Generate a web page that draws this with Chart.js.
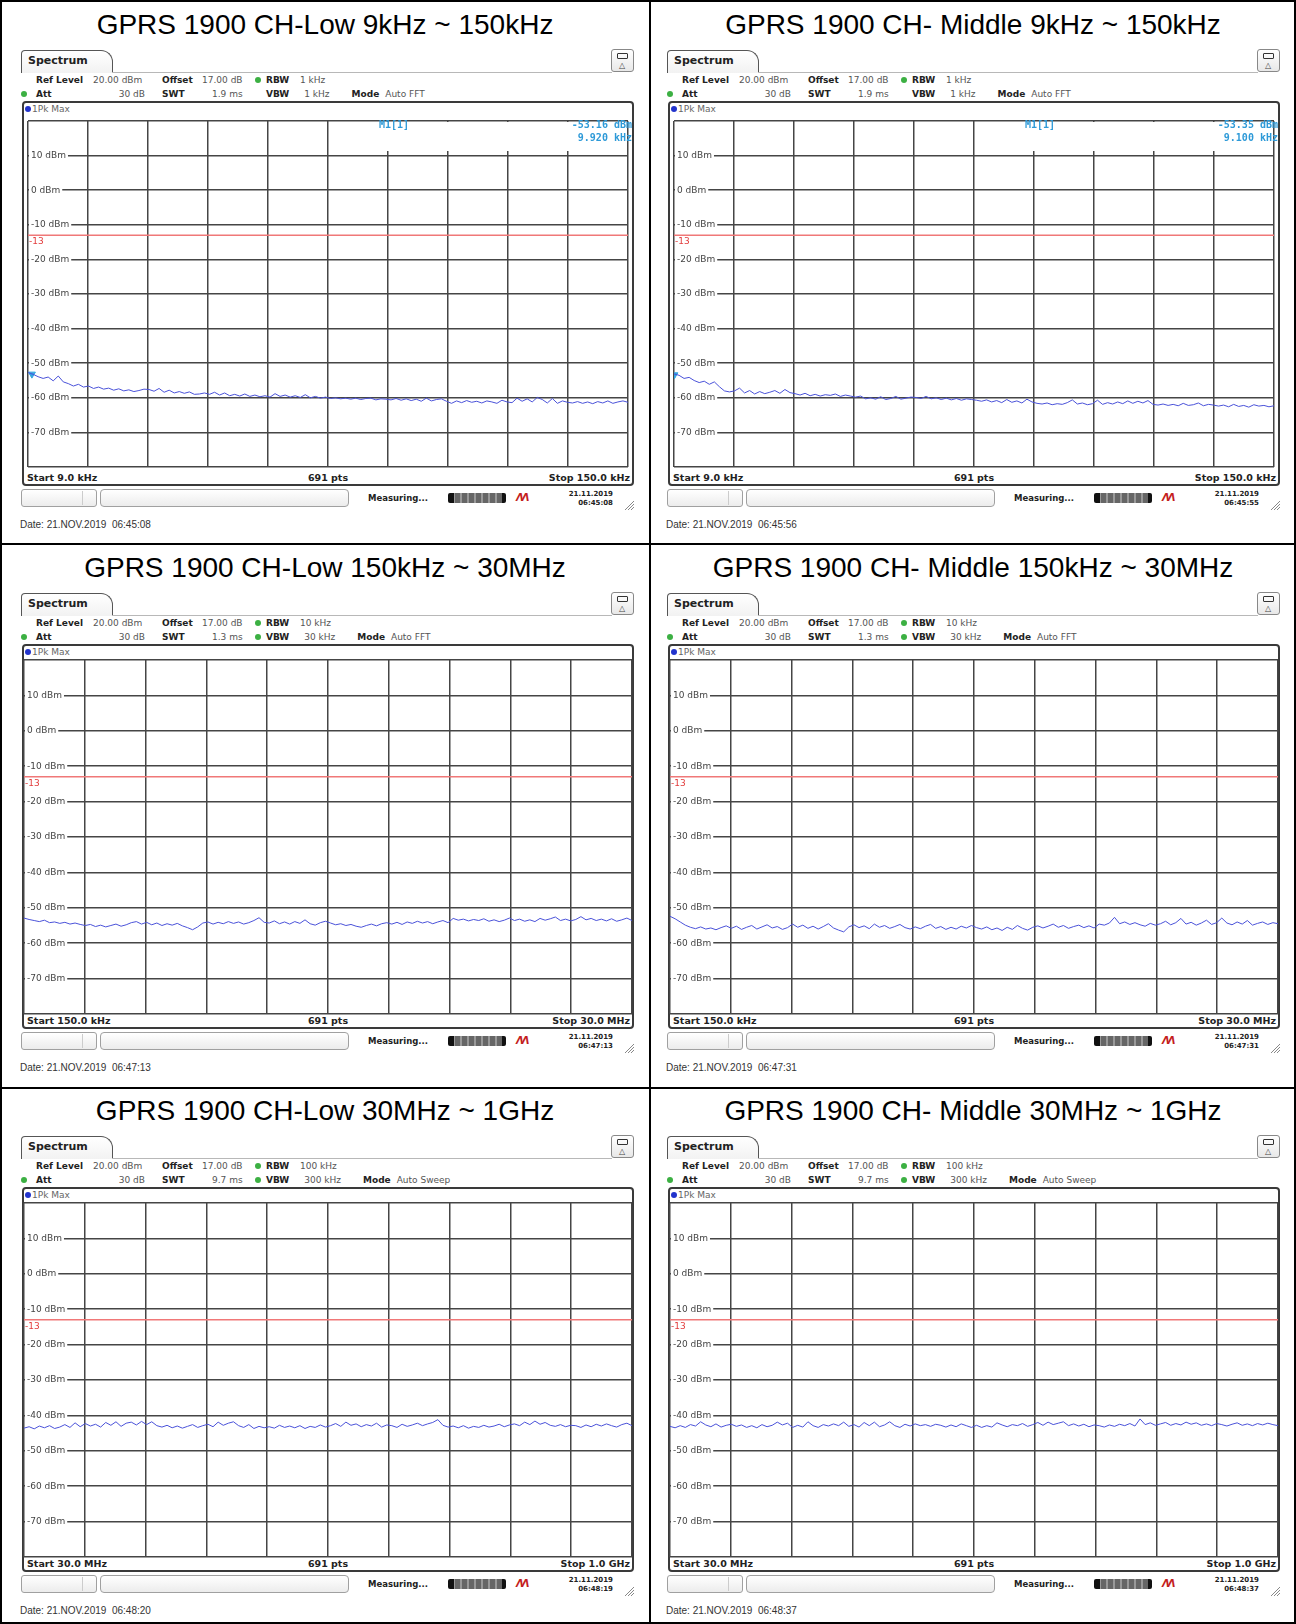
<!DOCTYPE html>
<html>
<head>
<meta charset="utf-8">
<script src="https://cdn.jsdelivr.net/npm/chart.js@4.4.1/dist/chart.umd.min.js"></script>
<style>
  body { margin: 0; background: #fff; }
  #page { position: relative; width: 1296px; height: 1624px; overflow: hidden; font-family: "DejaVu Sans", sans-serif; }
  .abs { position: absolute; }
  .title { position: absolute; font-family: "Liberation Sans", Arial, sans-serif; font-size: 28px; line-height: 32px; text-align: center; color: #000; }
  .tab { position: absolute; left: 21px; top: 50px; width: 92px; height: 23px; box-sizing: border-box; border: 1.5px solid #555; border-bottom: none; border-radius: 4px 12px 0 0; background: linear-gradient(#fff, #f2f2f2); }
  .frame { position: absolute; left: 22px; top: 101px; width: 612px; height: 385px; box-sizing: border-box; border: 2px solid #3a3a3a; border-radius: 4px; background: #fff; }
  .lbl { font-weight: bold; color: #222; font-size: 9px; }
  .val { font-weight: normal; color: #555; font-size: 9px; }
  .mk { font-family: "DejaVu Sans Mono", monospace; font-weight: bold; font-size: 10px; color: #2e9ad8; z-index: 2; }
</style>
</head>
<body>
<div id="page"></div>
<script>
// ---- chart data ----
const panelTitles = [
  "GPRS 1900 CH-Low 9kHz ~ 150kHz",
  "GPRS 1900 CH- Middle 9kHz ~ 150kHz",
  "GPRS 1900 CH-Low 150kHz ~ 30MHz",
  "GPRS 1900 CH- Middle 150kHz ~ 30MHz",
  "GPRS 1900 CH-Low 30MHz ~ 1GHz",
  "GPRS 1900 CH- Middle 30MHz ~ 1GHz"
];
// span in MHz
const spanStart = [0.009, 0.009, 0.15, 0.15, 30, 30];
const spanStop = [0.15, 0.15, 30, 30, 1000, 1000];
const startLabels = ["Start 9.0 kHz", "Start 9.0 kHz", "Start 150.0 kHz", "Start 150.0 kHz", "Start 30.0 MHz", "Start 30.0 MHz"];
const stopLabels = ["Stop 150.0 kHz", "Stop 150.0 kHz", "Stop 30.0 MHz", "Stop 30.0 MHz", "Stop 1.0 GHz", "Stop 1.0 GHz"];
const rbwLabels = ["1 kHz", "1 kHz", "10 kHz", "10 kHz", "100 kHz", "100 kHz"];
const vbwLabels = ["1 kHz", "1 kHz", "30 kHz", "30 kHz", "300 kHz", "300 kHz"];
const vbwCoupled = [false, false, true, true, true, true];
const swtLabels = ["1.9 ms", "1.9 ms", "1.3 ms", "1.3 ms", "9.7 ms", "9.7 ms"];
const modeLabels = ["Auto FFT", "Auto FFT", "Auto FFT", "Auto FFT", "Auto Sweep", "Auto Sweep"];
const captureTimes = ["06:45:08", "06:45:56", "06:47:13", "06:47:31", "06:48:20", "06:48:37"];
const screenTimes = ["06:45:08", "06:45:55", "06:47:13", "06:47:31", "06:48:19", "06:48:37"];
const markerFreq = [0.00992, 0.0091, null, null, null, null];
const markerLevel = [-53.16, -53.35, null, null, null, null];
const markerFreqLabels = ["9.920 kHz", "9.100 kHz", "", "", "", ""];

const levelTicks = [10, 0, -10, -20, -30, -40, -50, -60, -70];
const gridLevels = [20, 10, 0, -10, -20, -30, -40, -50, -60, -70, -80];
const limitLevel = -13;

// trace levels (dBm)
const lowTrace9k = [
  -52.7, -53.2, -53.9, -54.4, -54.0, -55.1, -53.7, -55.4, -55.9, -56.6, -56.1, -56.9,
  -56.6, -57.3, -56.9, -57.5, -57.2, -57.8, -57.4, -58.0, -57.7, -58.2, -57.9, -57.5,
  -57.6, -58.1, -57.3, -58.4, -57.8, -58.6, -58.2, -58.7, -58.3, -59.0, -58.9, -58.6,
  -59.0, -58.4, -59.2, -58.6, -59.4, -59.0, -59.5, -58.9, -59.6, -59.2, -59.7, -59.4,
  -59.8, -58.8, -59.6, -59.2, -59.8, -59.4, -59.9, -59.1, -60.0, -59.6, -60.1, -59.8,
  -60.2, -60.0, -60.3, -60.1, -60.4, -60.1, -60.5, -60.2, -60.1, -60.6, -60.3, -60.4,
  -60.6, -60.2, -60.7, -60.3, -60.8, -60.4, -61.0, -60.1, -60.9, -60.5, -60.3, -61.0,
  -61.6, -60.9, -61.4, -60.8, -61.3, -61.0, -61.5, -60.9, -61.2, -61.6, -60.7, -61.2,
  -61.4, -60.1, -61.0, -60.3, -61.2, -59.9, -60.5, -61.5, -60.2, -61.6, -60.9, -61.3,
  -61.5, -61.1, -61.6, -61.2, -61.7, -61.1, -61.5, -60.9, -61.6, -61.2, -60.9, -61.3
];
const midTrace9k = [
  -53.1, -53.5, -54.4, -54.1, -55.0, -55.6, -55.2, -56.1, -55.4, -56.8, -58.0, -58.3,
  -58.0, -57.2, -58.6, -57.9, -58.9, -58.2, -58.8, -58.4, -57.9, -58.7, -57.6, -58.5,
  -58.8, -59.2, -58.7, -59.4, -59.0, -59.5, -59.1, -59.3, -58.9, -59.6, -59.2, -59.5,
  -59.8, -59.5, -60.3, -60.0, -60.4, -59.7, -60.5, -60.2, -59.6, -60.4, -60.1, -59.8,
  -59.9, -60.2, -59.6, -60.3, -60.0, -60.5, -60.1, -60.6, -60.2, -60.7, -60.3, -60.5,
  -60.7, -61.0, -60.6, -61.2, -60.8, -61.4, -60.5, -61.3, -60.9, -61.5, -60.4, -61.2,
  -61.6, -61.8, -61.5, -62.0, -61.7, -61.9, -61.4, -60.6, -61.8, -61.5, -62.0, -61.7,
  -60.7, -61.9, -61.4, -61.8, -61.2, -61.7, -60.9, -61.6, -61.0, -61.5, -60.8, -61.9,
  -62.1, -61.8, -62.2, -61.9, -62.3, -61.6, -62.2, -62.0, -61.5, -62.3, -61.9, -62.1,
  -62.4, -62.1, -62.6, -61.9, -62.5, -62.2, -62.7, -62.0, -62.4, -62.2, -62.6, -62.3
];
const lowTrace30M = [
  -52.9, -53.3, -53.6, -53.9, -53.5, -54.2, -54.0, -54.4, -54.1, -54.6, -54.3, -54.7,
  -55.0, -54.7, -55.3, -54.9, -55.4, -55.0, -54.6, -55.2, -54.8, -54.2, -53.9, -54.6,
  -54.1, -54.8, -54.3, -55.0, -54.5, -54.9, -54.4, -55.1, -55.6, -56.2, -55.4, -54.3,
  -54.0, -54.6, -54.1, -54.5, -53.9, -54.4, -54.0, -54.6, -54.2, -53.6, -52.8, -54.1,
  -54.3, -53.7, -54.5, -54.0, -54.6, -53.9, -54.4, -53.4, -54.5, -54.9, -54.2, -53.8,
  -54.3, -54.8, -54.5, -55.0, -54.7, -55.2, -55.5, -55.0, -54.6, -55.1, -54.5, -54.2,
  -54.6, -54.1, -54.7, -54.0, -54.4, -53.8, -54.3, -53.9, -54.5, -54.0, -53.6, -54.2,
  -53.0, -53.5, -53.2, -53.7, -53.3, -53.6, -53.1, -53.8, -53.4, -53.9, -53.5, -52.9,
  -53.6, -53.2, -53.8, -53.4, -53.9, -53.0, -53.5, -53.1, -52.6, -53.6, -53.2, -53.7,
  -53.3, -52.5, -53.4, -53.0, -53.6, -53.2, -53.7, -53.1, -53.8, -53.4, -52.9, -53.6
];
const midTrace30M = [
  -52.4, -53.1, -54.0, -54.9, -55.5, -55.9, -55.4, -56.0, -55.7, -56.2, -55.6, -55.1,
  -55.8, -55.2, -56.1, -55.5, -55.0, -56.0, -55.4, -54.8, -55.7, -55.3, -56.1, -55.6,
  -54.6, -55.5, -54.9, -55.8, -55.2, -56.0, -55.3, -54.5, -55.7, -56.3, -56.8, -55.4,
  -54.8, -55.6, -55.1, -55.9, -54.6, -55.5, -55.0, -55.8, -55.3, -54.7, -55.6, -56.0,
  -55.4, -55.9, -55.2, -54.7, -55.8, -55.3, -56.1, -55.5, -56.0, -55.2, -55.7, -55.0,
  -55.6, -56.0, -55.4, -56.2, -55.7, -56.4, -55.5, -56.1, -55.0, -55.8, -56.3, -55.5,
  -55.1, -55.7, -55.2, -54.6, -55.5, -55.0, -55.8, -55.3, -54.9, -55.6, -55.1, -55.7,
  -54.6, -54.9, -54.3, -52.7, -54.5, -54.0, -54.7, -54.2, -54.8, -55.2, -54.4, -54.9,
  -54.5, -53.8, -54.8, -54.2, -53.0, -54.6, -54.1, -54.9, -54.3, -53.5, -54.7, -54.2,
  -52.9, -54.3, -54.8, -54.0, -54.6, -53.6, -54.9, -54.4, -54.0, -54.7, -54.2, -54.5
];
const lowTrace1G = [
  -43.6, -43.2, -43.8, -43.0, -43.5, -42.9, -43.7, -43.3, -42.6, -43.4, -42.1, -43.2,
  -42.3, -43.0, -42.5, -43.3, -42.0, -42.8, -41.8, -43.1, -42.2, -41.9, -42.7, -41.7,
  -42.6, -41.8, -42.9, -43.3, -42.8, -43.5, -43.0, -43.6, -43.1, -42.6, -43.4, -42.9,
  -42.5, -43.2, -41.9, -42.8, -42.2, -41.8, -42.9, -43.4, -42.6, -43.7, -43.1, -43.5,
  -43.2, -43.6, -42.8, -43.4, -43.0, -43.5, -42.9, -43.7, -43.1, -43.4, -42.7, -43.3,
  -42.9, -42.3, -43.1, -41.9, -42.8, -42.4, -43.2, -42.6, -43.0, -42.2, -43.3, -42.7,
  -42.9, -43.4, -42.5, -43.1, -42.7, -42.2, -42.9, -42.4, -42.0, -41.2, -42.8, -43.3,
  -43.0, -43.5, -42.9, -43.6, -43.1, -43.4, -42.8, -43.3, -43.0, -42.5, -43.2, -42.7,
  -42.4, -42.9, -41.9, -42.6, -41.6, -42.5, -42.0, -42.8, -43.1, -42.6, -43.2, -42.8,
  -42.9, -43.4, -42.7, -43.2, -42.5, -43.0, -42.4, -42.9, -43.3, -42.6, -42.2, -42.9
];
const midTrace1G = [
  -43.1, -43.5, -42.9, -43.4, -42.6, -43.0, -41.8, -42.7, -43.2, -42.4, -43.3, -42.8,
  -42.5, -43.1, -42.7, -43.4, -42.9, -43.5, -42.6, -43.2, -42.8, -41.9, -42.7, -42.2,
  -43.4, -42.8, -43.3, -41.8, -42.9, -43.4, -42.6, -43.0, -42.4, -42.9, -41.9, -43.1,
  -42.6, -43.3, -42.0, -42.9, -41.9, -43.2, -42.7, -41.8, -42.9, -43.4, -42.5, -43.0,
  -42.4, -42.9, -42.6, -43.1, -42.5, -42.8, -43.3, -42.7, -43.2, -42.4, -42.9, -43.4,
  -42.8, -43.4, -42.9, -43.3, -42.1, -42.7, -43.2, -42.6, -42.9, -42.3, -43.1, -42.6,
  -42.0, -42.8, -41.9, -42.6, -42.2, -41.8, -42.9, -42.4, -43.0, -42.5, -43.2, -42.7,
  -42.9, -43.3, -42.7, -43.1, -42.5, -42.9, -42.3, -43.0, -41.0, -42.6, -42.1, -42.8,
  -42.4, -42.0, -42.8, -42.3, -42.7, -41.9, -42.5, -42.1, -42.8, -42.4, -42.9, -42.3,
  -42.6, -43.0, -42.5, -42.1, -42.8, -42.4, -42.9, -42.3, -42.7, -42.2, -42.6, -42.9
];
const traces = [lowTrace9k, midTrace9k, lowTrace30M, midTrace30M, lowTrace1G, midTrace1G];

// ---- layout ----
const page = document.getElementById('page');
const colLeft = [0, 650];
const colWidth = [650, 646];
const panelX = [0, 646];
const panelY = [0, 543, 1086];

function box(parent, x, y, w, h, css) {
  const d = document.createElement('div');
  d.className = 'abs';
  d.style.cssText += `left:${x}px;top:${y}px;width:${w}px;height:${h}px;` + (css || '');
  parent.appendChild(d);
  return d;
}
function put(parent, text, x, cy, cls, align, css) {
  const s = document.createElement('div');
  s.className = 'abs ' + (cls || '');
  s.textContent = text;
  s.style.cssText += (css || '') + `top:${cy - 7}px;line-height:14px;white-space:pre;`;
  if (align === 'right') { s.style.left = (x - 300) + 'px'; s.style.width = '300px'; s.style.textAlign = 'right'; }
  else if (align === 'center') { s.style.left = (x - 150) + 'px'; s.style.width = '300px'; s.style.textAlign = 'center'; }
  else s.style.left = x + 'px';
  parent.appendChild(s);
  return s;
}

// table borders
box(page, 0, 0, 1296, 1624, 'box-sizing:border-box;border:2px solid #000;');
box(page, 649, 0, 2, 1624, 'background:#000;');
box(page, 0, 543, 1296, 2, 'background:#000;');
box(page, 0, 1087, 1296, 2, 'background:#000;');

const panelDecor = {
  id: 'panelDecor',
  beforeDatasetsDraw(chart, args, opts) {
    if (opts.maskFrom == null) return;
    const { ctx, chartArea: a, scales: { x } } = chart;
    const left = x.getPixelForValue(opts.maskFrom) + 1.5;
    ctx.save();
    ctx.fillStyle = '#fff';
    ctx.fillRect(left, a.top + 1, a.right - left - 1, opts.maskHeight);
    ctx.restore();
  },
  afterDatasetsDraw(chart, args, opts) {
    const { ctx, chartArea: a, scales: { y } } = chart;
    const py = y.getPixelForValue(opts.limit);
    ctx.save();
    ctx.fillStyle = '#e23c3c';
    ctx.font = '9px "DejaVu Sans"';
    ctx.textBaseline = 'top';
    ctx.fillText(String(opts.limit), a.left + 1, py + 2);
    ctx.restore();
  }
};

// axes keep no room of their own: the chart area fills the canvas
function noRoom(s) {
  if (s.isHorizontal()) s.height = 0; else s.width = 0;
  s.paddingTop = 0; s.paddingBottom = 0; s.paddingLeft = 0; s.paddingRight = 0;
}

traces.forEach((trace, i) => {
  const col = i % 2, row = Math.floor(i / 2);
  const start = spanStart[i], stop = spanStop[i];

  const title = document.createElement('div');
  title.className = 'title';
  title.textContent = panelTitles[i];
  title.style.left = colLeft[col] + 'px';
  title.style.width = colWidth[col] + 'px';
  title.style.top = (panelY[row] + 9) + 'px';
  page.appendChild(title);

  const p = box(page, panelX[col], panelY[row], 646, 543);

  // header tab and icon
  const tab = document.createElement('div');
  tab.className = 'tab';
  p.appendChild(tab);
  put(p, 'Spectrum', 28, 61, 'lbl', null, 'font-size:11px;color:#222;');
  box(p, 112, 72, 500, 1, 'background:#b8b8b8;');
  box(p, 611, 49, 23, 23, 'box-sizing:border-box;border:1px solid #888;border-radius:3px;background:linear-gradient(#fff,#e8e8e8);');
  box(p, 617, 53, 11, 6, 'box-sizing:border-box;border:1.5px solid #333;border-radius:1px;');
  put(p, '\u25B3', 622, 66, 'val', 'center', 'font-size:8px;color:#444;');

  // settings lines
  put(p, 'Ref Level', 36, 80, 'lbl');
  put(p, '20.00 dBm', 93, 80, 'val');
  put(p, 'Offset', 162, 80, 'lbl');
  put(p, '17.00 dB', 202, 80, 'val');
  box(p, 255, 77, 6, 6, 'border-radius:50%;background:#3cb043;');
  put(p, 'RBW', 266, 80, 'lbl');
  put(p, rbwLabels[i], 300, 80, 'val');
  box(p, 21, 91, 6, 6, 'border-radius:50%;background:#3cb043;');
  put(p, 'Att', 36, 94, 'lbl');
  put(p, '30 dB', 145, 94, 'val', 'right');
  put(p, 'SWT', 162, 94, 'lbl');
  put(p, swtLabels[i], 212, 94, 'val');
  if (vbwCoupled[i]) box(p, 255, 91, 6, 6, 'border-radius:50%;background:#3cb043;');
  const vbw = put(p, '', 266, 94, 'lbl');
  vbw.innerHTML = `VBW<span class="val" style="margin-left:15px">${vbwLabels[i]}</span>` +
    `<span style="margin-left:22px">Mode</span><span class="val" style="margin-left:6px">${modeLabels[i]}</span>`;

  // plot frame
  const frame = document.createElement('div');
  frame.className = 'frame';
  p.appendChild(frame);
  box(p, 25, 106, 6, 6, 'border-radius:50%;background:#2233cc;');
  put(p, '1Pk Max', 32, 109, 'val', null, 'color:#666;');
  put(p, startLabels[i], 27, 478, 'lbl', null, 'font-size:9.5px;');
  put(p, '691 pts', 328, 478, 'lbl', 'center', 'font-size:9.5px;');
  put(p, stopLabels[i], 630, 478, 'lbl', 'right', 'font-size:9.5px;');

  // status bar
  box(p, 21, 489, 76, 18, 'box-sizing:border-box;border:1px solid #a0a0a0;border-radius:3px;background:linear-gradient(#fff,#ececec);');
  box(p, 82, 491, 1, 14, 'background:#ccc;');
  box(p, 100, 489, 249, 18, 'box-sizing:border-box;border:1px solid #a0a0a0;border-radius:4px;background:linear-gradient(#fff,#ececec);');
  put(p, 'Measuring...', 368, 498, 'lbl', null, 'font-size:8.5px;');
  box(p, 448, 493, 58, 10, 'border-radius:2px;background:linear-gradient(to right,#111 0 6px,transparent 6px calc(100% - 4px),#111 calc(100% - 4px)),repeating-linear-gradient(to right,#666 0 5px,#999 5px 7px);');
  put(p, '\u039B\u039B', 516, 498, 'lbl', null, 'font-size:10px;color:#c41e1e;font-style:italic;letter-spacing:-2px;');
  put(p, '21.11.2019', 613, 494, 'lbl', 'right', 'font-size:7px;line-height:9px;');
  put(p, screenTimes[i], 613, 503, 'lbl', 'right', 'font-size:7px;line-height:9px;');
  const grip = box(p, 624, 496, 11, 11);
  grip.innerHTML = '<svg width="11" height="11"><path d="M10 1L1 10M10 4L4 10M10 7L7 10" stroke="#888" stroke-width="1"/></svg>';

  put(p, 'Date: 21.NOV.2019  ' + captureTimes[i], 20, 525, null, null,
    'font-family:"Liberation Sans",Arial,sans-serif;font-size:10px;color:#333;');

  // chart canvas
  const canvas = document.createElement('canvas');
  canvas.width = 610; canvas.height = 356;
  canvas.style.cssText = 'position:absolute;left:23px;top:116px;width:610px;height:356px;';
  p.appendChild(canvas);

  if (markerFreq[i] != null) {
    put(p, 'M1[1]', 394, 125, 'mk', 'center');
    put(p, markerLevel[i].toFixed(2) + ' dBm', 632, 125, 'mk', 'right');
    put(p, markerFreqLabels[i], 632, 138, 'mk', 'right');
  }

  const step = (stop - start) / (trace.length - 1);
  const points = trace.map((v, k) => ({ x: start + k * step, y: v }));
  const divs = [];
  for (let k = 0; k <= 10; k++) divs.push(start + k * (stop - start) / 10);

  const datasets = [
    { data: [{ x: start, y: limitLevel }, { x: stop, y: limitLevel }], borderColor: '#f07878', borderWidth: 1.5, pointRadius: 0 },
    { data: points, borderColor: '#4a52d9', borderWidth: 1, pointRadius: 0, tension: 0 }
  ];
  if (markerFreq[i] != null) {
    datasets.push({ data: [{ x: markerFreq[i], y: markerLevel[i] }], showLine: false, pointStyle: 'triangle', rotation: 180,
      pointRadius: 4, backgroundColor: '#35a5e0', borderColor: '#35a5e0' });
  }

  new Chart(canvas, {
    type: 'line',
    data: { datasets },
    options: {
      responsive: false,
      animation: false,
      layout: { padding: 1 },
      plugins: {
        legend: { display: false },
        tooltip: { enabled: false },
        panelDecor: { limit: limitLevel, maskFrom: markerFreq[i] != null ? divs[5] : null, maskHeight: 29 }
      },
      scales: {
        x: {
          type: 'linear', min: start, max: stop,
          afterBuildTicks: s => { s.ticks = divs.map(v => ({ value: v })); },
          afterFit: noRoom,
          ticks: { display: false },
          grid: { color: '#454545', lineWidth: 1.5, drawTicks: false },
          border: { display: false }
        },
        y: {
          min: -80, max: 20,
          afterBuildTicks: s => { s.ticks = gridLevels.map(v => ({ value: v })); },
          afterFit: noRoom,
          ticks: {
            mirror: true, padding: 3, color: '#444',
            font: { family: 'DejaVu Sans', size: 9 },
            callback: v => levelTicks.includes(v) ? v + ' dBm' : '',
            showLabelBackdrop: c => levelTicks.includes(c.tick.value),
            backdropColor: '#fff',
            backdropPadding: { left: 2, right: 2, top: 0, bottom: 0 }
          },
          grid: { color: '#454545', lineWidth: 1.5, drawTicks: false },
          border: { display: false }
        }
      }
    },
    plugins: [panelDecor]
  });
});
</script>
</body>
</html>
